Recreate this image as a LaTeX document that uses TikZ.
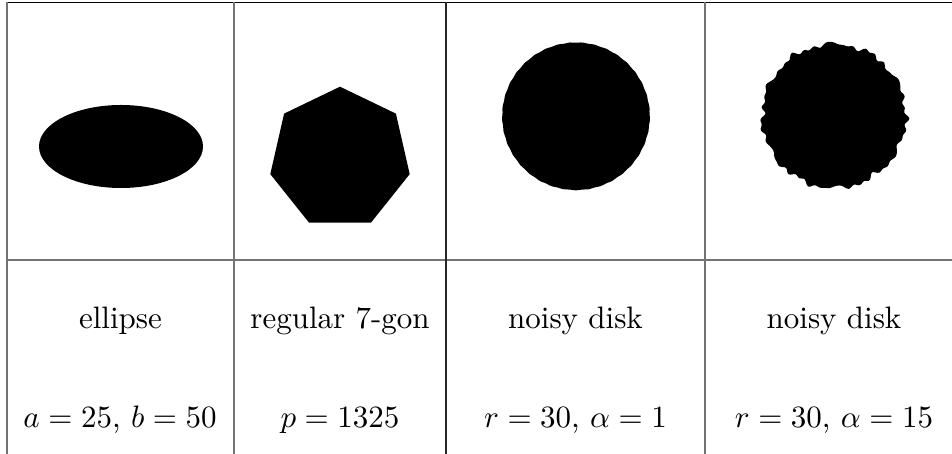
\documentclass[tikz,border=0pt]{standalone}
\begin{document}
\begin{tikzpicture}[x=0.3226pt,y=-0.3226pt,
  grid/.style={draw=black!55,line width=0.6pt},
  thin grid/.style={draw=black!85,line width=0.35pt},
  lbl/.style={anchor=base,inner sep=0pt,font=\fontsize{10}{12}\selectfont},
  blob/.style={fill=black,draw=none}]
\useasboundingbox (0,0) rectangle (952,454);
\fill[white] (0,0) rectangle (952,454);
% table rules
\draw[thin grid,draw=black] (7,2.5) -- (952,2.5);
\draw[grid] (7,260) -- (952,260);
\draw[grid] (7,2.5) -- (7,454);
\draw[grid] (234,2.5) -- (234,454);
\draw[thin grid] (446,2.5) -- (446,454);
\draw[grid,line width=0.5pt] (705,2.5) -- (705,454);
% shapes
\fill[blob] (121,146.5) ellipse [x radius=82, y radius=41.5];
\fill[blob] (340,158.2) +(270:71.5) -- +(321.43:71.5) -- +(12.86:71.5) -- +(64.29:71.5) -- +(115.71:71.5) -- +(167.14:71.5) -- +(218.57:71.5) -- cycle;
\fill[blob] plot[domain=0:360,samples=180,variable=\t]
  ({576+(73.8+0.25*sin(37*\t))*cos(\t)},{116.3+(73.8+0.25*sin(37*\t))*sin(\t)}) -- cycle;
\fill[blob] plot[domain=0:360,samples=240,variable=\t]
  ({834+(72+1.4*sin(11*\t+20)+1.1*sin(23*\t+70)+0.9*sin(37*\t+5)+0.7*sin(43*\t))*cos(\t)},
   {116+(72+1.4*sin(11*\t+20)+1.1*sin(23*\t+70)+0.9*sin(37*\t+5)+0.7*sin(43*\t))*sin(\t)}) -- cycle;
% labels
\node[lbl] (n1) at (120.5,329) {ellipse};
\node[lbl] (n2) at (340,329) {regular 7-gon};
\node[lbl] (n3) at (575.5,329) {noisy disk};
\node[lbl] (n4) at (834,329) {noisy disk};
\node[lbl] (p1) at (120,428) {$a = 25$, $b = 50$};
\node[lbl] (p2) at (340,428) {$p = 1325$};
\node[lbl] (p3) at (575.5,428) {$r = 30$, $\alpha = 1$};
\node[lbl] (p4) at (834,428) {$r = 30$, $\alpha = 15$};
\end{tikzpicture}
\end{document}
